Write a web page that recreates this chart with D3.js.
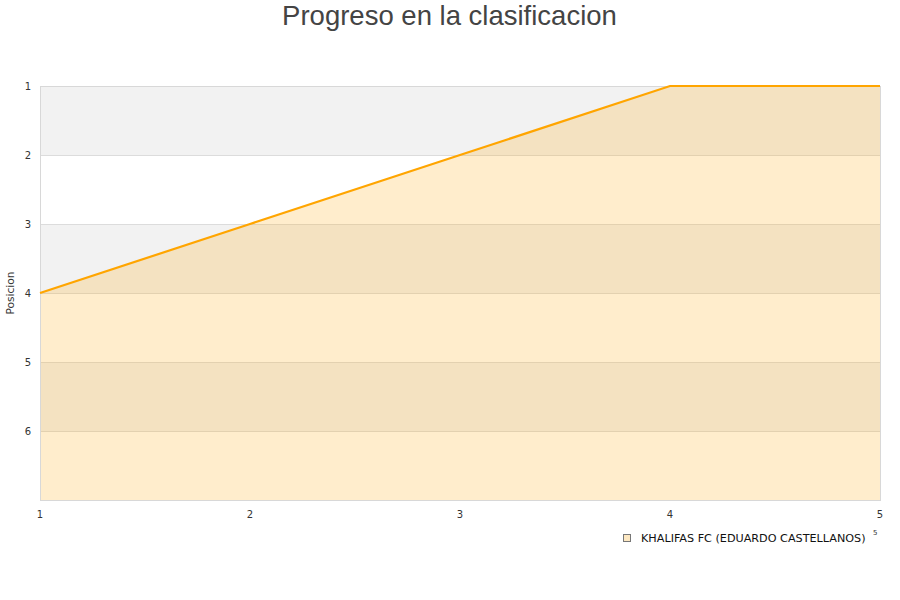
<!DOCTYPE html>
<html><head><meta charset="utf-8">
<script src="https://cdn.jsdelivr.net/npm/d3@7"></script>
<style>body{margin:0;background:#fff}</style>
</head><body>
<svg id="c" width="900" height="600"></svg>
<script>
const title = "Progreso en la clasificacion";
const yLabel = "Posicion";
const seriesName = "KHALIFAS FC (EDUARDO CASTELLANOS)";
const jornadas = [1, 2, 3, 4, 5];
const posiciones = [4, 3, 2, 1, 1];
const yTicks = [1, 2, 3, 4, 5, 6];
const yDomain = [1, 7];

const svg = d3.select("#c");
const m = {l: 40, r: 20, t: 86, b: 100};
const W = 900, H = 600;
const x = d3.scaleLinear().domain([1, 5]).range([m.l, W - m.r]);
const y = d3.scaleLinear().domain(yDomain).range([m.t, H - m.b]);

svg.append("text").attr("x", 449.5).attr("y", 25).attr("text-anchor", "middle")
  .attr("font-family", "Liberation Sans, Arial, sans-serif").attr("font-size", 27.5)
  .attr("fill", "#444").text(title);

// bands
const bands = d3.range(yDomain[0], yDomain[1]);
svg.selectAll("rect.band").data(bands).enter().append("rect")
  .attr("x", x(1)).attr("width", x(5) - x(1))
  .attr("y", d => y(d)).attr("height", d => y(d + 1) - y(d))
  .attr("fill", (d, i) => i % 2 === 0 ? "#f2f2f2" : "#ffffff");

// grid lines
svg.selectAll("line.grid").data(yTicks).enter().append("line")
  .attr("x1", x(1)).attr("x2", x(5)).attr("y1", d => y(d) + 0.5).attr("y2", d => y(d) + 0.5)
  .attr("stroke", "#dcdcdc").attr("stroke-width", 1);

const pts = jornadas.map((j, i) => [j, posiciones[i]]);
const area = d3.area().x(d => x(d[0])).y0(y(yDomain[1])).y1(d => y(d[1]));
svg.append("path").datum(pts).attr("d", area).attr("fill", "rgba(255,165,0,0.2)");

// border
svg.append("rect").attr("x", x(1) + 0.5).attr("y", y(yDomain[0]) + 0.5)
  .attr("width", x(5) - x(1)).attr("height", y(yDomain[1]) - y(yDomain[0]))
  .attr("fill", "none").attr("stroke", "#d8d8d8");

const line = d3.line().x(d => x(d[0])).y(d => y(d[1]));
svg.append("path").datum(pts).attr("d", line).attr("fill", "none")
  .attr("stroke", "#ffa500").attr("stroke-width", 2.2);

// y tick labels
svg.selectAll("text.yt").data(yTicks).enter().append("text")
  .attr("x", 31).attr("y", d => y(d) + 4).attr("text-anchor", "end")
  .attr("font-family", "DejaVu Sans, sans-serif").attr("font-size", 10).attr("fill", "#333")
  .text(d => d);

// x tick labels
svg.selectAll("text.xt").data(jornadas).enter().append("text")
  .attr("x", d => x(d)).attr("y", 518).attr("text-anchor", "middle")
  .attr("font-family", "DejaVu Sans, sans-serif").attr("font-size", 10).attr("fill", "#333")
  .text(d => d);

svg.append("text").attr("transform", "translate(14," + y(4) + ") rotate(-90)")
  .attr("text-anchor", "middle").attr("font-family", "DejaVu Sans, sans-serif")
  .attr("font-size", 10.6).attr("fill", "#333").text(yLabel);

// legend
svg.append("rect").attr("x", 623.5).attr("y", 534.5).attr("width", 7).attr("height", 7)
  .attr("fill", "#fde8c2").attr("stroke", "#777");
svg.append("text").attr("x", 641).attr("y", 542)
  .attr("font-family", "DejaVu Sans, sans-serif").attr("font-size", 11.2).attr("fill", "#111")
  .text(seriesName);
svg.append("text").attr("x", 873).attr("y", 535)
  .attr("font-family", "DejaVu Sans, sans-serif").attr("font-size", 7).attr("fill", "#333")
  .text(jornadas[jornadas.length - 1]);
</script>
</body></html>
